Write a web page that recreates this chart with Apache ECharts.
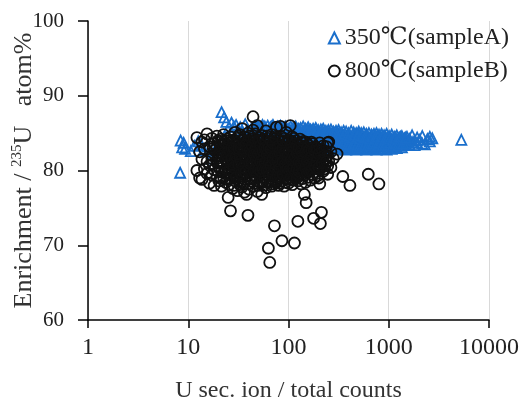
<!DOCTYPE html>
<html><head><meta charset="utf-8">
<script src="https://cdn.jsdelivr.net/npm/echarts@6/dist/echarts.min.js"></script>
<style>html,body{margin:0;padding:0;background:#fff}#c{width:526px;height:403px}</style>
</head><body><div id="c"></div>
<script>
const seriesNames = ['350℃(sampleA)', '800℃(sampleB)'];
const xTicks = [1, 10, 100, 1000, 10000];
const yTicks = [60, 70, 80, 90, 100];
const xTitle = 'U sec. ion / total counts';

// sampleA (triangles): [x, [y values at that x]]
const sampleA = [
  [8.3,[79.7]],[8.4,[84.0]],[8.7,[83.1]],[9.0,[83.7]],[9.3,[82.9]],[10.6,[82.6]],[11.5,[83.3]],[12.6,[83.9]],
  [13.4,[83.5]],[14.2,[82.7]],[15.5,[83.2]],[16.8,[81.6]],[18,[82.4]],[19.5,[83.0]],[21.5,[87.8]],[22.8,[87.1]],
  [24,[86.5]],[25.5,[85.8]],[27,[86.4]],[28.5,[85.9]],[30,[86.1]],[31.5,[85.4]],[33,[85.8]],[35,[85.1]],
  [37,[86.2]],[39,[85.5]],[41,[84.9]],[43,[85.7]],
  [46,[85.9,85.2,84.6]],[49,[85.4,86.0,84.8]],[52,[85.7,84.9,84.3]],[55,[86.1,85.3,84.5]],[58,[85.6,84.8,85.9]],
  [62,[85.1,86.0,84.4]],[66,[85.8,84.9,85.3]],[70,[85.5,86.1,84.6]],[74,[85.0,85.7,84.2]],[78,[85.9,85.2,84.7]],
  [83,[85.4,84.6,86.0,83.9]],[88,[85.7,85.0,84.3]],[93,[85.2,85.9,84.5,83.8]],[99,[85.6,84.8,85.1,84.0]],
  [105,[85.9,85.3,84.4,83.7]],[111,[85.0,85.7,84.7,84.1]],[118,[85.5,84.9,85.9,83.6]],[125,[85.2,84.5,85.6,83.9]],
  [132,[85.7,84.8,84.2,83.5]],[140,[85.3,85.9,84.6,83.8]],[148,[85.0,85.6,84.3,83.4]],[157,[85.4,84.7,85.8,83.7]],
  [166,[85.1,84.4,85.5,83.3]],[176,[85.6,84.9,84.1,83.6]],[187,[85.2,85.7,84.5,83.2]],[198,[84.8,85.4,84.0,83.5]],
  [210,[85.5,84.6,85.0,83.1]],[222,[85.1,84.3,85.6,83.7]],[236,[84.7,85.3,83.9,83.0]],[250,[85.4,84.5,83.4,84.9]],
  [265,[85.0,84.2,85.5,83.2,82.9]],[281,[84.6,85.2,83.8,83.3]],[298,[85.3,84.4,83.6,82.8]],[316,[84.9,85.4,84.1,83.1]],
  [335,[85.1,84.3,83.7,82.9]],[355,[84.7,85.3,83.9,83.2]],[376,[85.2,84.5,83.5,82.8]],[398,[84.8,85.0,84.0,83.1]],
  [422,[85.3,84.4,83.6,82.9]],[447,[84.6,85.1,83.8,83.2]],[474,[85.0,84.2,83.4,82.8]],[502,[84.8,85.2,83.9,83.0]],
  [532,[84.5,85.0,83.6,82.9]],[564,[85.1,84.3,83.7,83.1]],[598,[84.7,84.9,83.3,82.8]],[634,[85.0,84.1,83.8,83.0]],
  [672,[84.6,84.8,83.5,82.9]],[712,[84.9,84.2,83.4,83.1]],[755,[84.5,85.0,83.7,82.8]],[800,[84.8,84.0,83.2,83.5]],
  [848,[84.4,84.9,83.6,82.9]],[899,[84.7,84.1,83.3,83.0]],[953,[84.9,84.3,83.7,82.8]],[1010,[84.6,84.0,83.4,83.1]],
  [1070,[84.8,84.2,83.5,82.9]],[1135,[84.5,83.9,83.2]],[1203,[84.7,84.1,83.6,83.0]],[1275,[84.4,83.8,83.3]],
  [1352,[84.6,84.0,83.1]],[1433,[84.3,83.7,83.4]],[1520,[84.5,83.9]],[1610,[84.2,83.5]],[1710,[84.7,83.8]],
  [1810,[84.0,83.4]],[1920,[84.4,83.7]],[2040,[84.1]],[2160,[84.6,83.6]],[2290,[83.5]],[2430,[84.2]],
  [2570,[84.5,83.9]],[2720,[84.3]],[5300,[84.1]],
  [47.5,[85.5,86.0]],[50.5,[85.0,85.8]],[53.5,[85.5,84.7]],[56.5,[85.0,85.8]],[60,[85.4,84.6]],[64,[85.6,84.8]],
  [68,[85.0,85.9]],[72,[85.3,84.4]],[76,[85.6,84.9]],[80.5,[85.1,85.8]],[85.5,[85.3,84.5]],[90.5,[85.6,84.9]],
  [96,[85.3,84.2]],[102,[85.5,84.6]],[108,[85.1,84.2]],[114.5,[85.4,84.3]],[121.5,[85.1,84.0]],[128.5,[85.4,84.2]],
  [136,[85.0,84.0]],[144,[85.2,83.7]],[152.5,[85.3,84.0]],[161.5,[85.0,83.8]],[171,[85.3,84.0]],[181.5,[84.8,83.8]],
  [192.5,[85.2,83.9]],[204,[84.9,83.6]],[216,[85.3,83.9]],[229,[84.9,83.5]],[243,[85.1,83.7]],[257,[84.8,83.6]],
  [273,[84.9,83.5]],[289,[85.0,83.4]],[307,[84.6,83.5]],[325,[84.8,83.4]],[345,[84.5,83.5]],[365,[84.9,83.6]],
  [387,[84.5,83.4]],[410,[84.7,83.5]],[435,[84.4,83.4]],[460,[84.8,83.6]],[488,[84.5,83.5]],[517,[84.3,83.3]],
  [548,[84.7,83.4]],[581,[84.4,83.5]],[616,[84.6,83.3]],[653,[84.3,83.4]],[692,[84.6,83.6]],[733,[84.3,83.3]],
  [777,[84.5,83.4]],[824,[84.2,83.7]],[873,[84.5,83.4]],[926,[84.2,83.5]],[981,[84.4,83.3]],[1040,[84.3,83.7]],
  [1103,[84.1,83.4]],[1168,[84.4,83.6]],[1240,[84.2,83.4]],[1313,[84.5]],[1392,[84.1,83.6]],[1476,[84.4]]
];

// sampleB (circles): [x, [y values at that x]]
const sampleB = [
  [12.2,[84.4,80.0]],[13,[82.5,79.0]],[13.7,[78.8,81.5,83.8]],[14.5,[80.2,82.9,84.1]],[15.4,[84.9,79.6,81.2]],
  [16.3,[83.2,80.7,78.3]],[17.2,[82.0,84.3,79.4,81.6]],[18.1,[83.6,80.1,82.7,78.0]],[19.3,[84.6,81.1,79.2,83.0]],
  [20.2,[82.3,80.5,83.9,78.6,81.7]],[21.4,[84.2,79.8,82.8,81.0,77.9]],[22.5,[83.4,80.9,82.1,84.8,79.1]],
  [23.7,[81.5,83.1,78.4,82.6,80.2,84.0]],[25,[82.9,76.4,79.6,81.9,83.7,80.8]],[26.4,[74.6,84.5,82.2,80.4,78.9,81.3,83.3]],
  [27.8,[81.8,77.6,83.9,79.9,82.5,80.7]],[29.3,[85.1,82.0,78.6,80.9,83.4,81.4,79.3]],[31,[83.0,81.1,77.3,84.3,79.7,82.6,80.3]],
  [32.7,[82.3,84.8,78.1,80.6,81.8,83.6,79.0]],[34.5,[85.6,81.5,83.2,77.8,80.1,82.8,79.5]],[36.3,[83.7,80.8,82.1,78.8,84.5,81.2,77.1]],
  [38.2,[82.4,79.3,84.0,81.7,80.2,83.1,76.8]],[39.4,[74.0,85.0,82.9,78.2]],[40.5,[81.0,83.5,79.8,82.2,84.6,80.5,77.5]],
  [42.6,[84.2,82.0,80.0,78.6,83.0,81.4]],[44.3,[87.2,85.4,81.7,83.8,79.4,82.6,80.7,77.9]],[46.5,[83.3,80.3,84.9,81.9,78.9,82.7]],
  [48.8,[86.0,82.4,79.7,83.6,81.1,80.2,77.2]],[51.2,[84.4,81.5,78.5,82.9,80.6,83.9]],[54,[76.8,83.1,80.9,82.3,79.1,84.7,81.8]],
  [56.6,[82.0,84.0,78.0,80.4,83.4,81.3]],[59.5,[85.3,81.6,79.5,82.8,80.1,83.7,77.7]],[62.5,[83.2,80.8,82.4,78.6,84.3,81.0]],
  [63,[69.6]],[65,[67.7,82.1,79.9,83.8,81.5]],[68,[84.8,80.4,82.6,78.2,81.9,83.3,77.9]],
  [72.4,[72.6,83.0,81.2,79.3,82.3,84.2,80.6]],[75.8,[85.8,82.7,80.0,81.6,78.4,83.5]],[79.5,[84.0,81.9,79.6,82.9,80.8,78.0]],
  [83.2,[85.9,83.4,80.3,82.0,81.1,79.0,84.6]],[86,[70.6,82.5,80.7,83.9,78.6]],[90.5,[84.3,81.4,79.8,82.8,80.1,83.2,77.9]],
  [95,[85.1,82.2,80.5,81.7,78.9,83.6]],[100,[83.0,80.9,82.5,79.4,84.1,81.3,78.3]],[104,[86.0,81.8,80.2,83.4,82.1]],
  [109,[84.5,82.7,79.7,81.0,80.6,83.8,78.1]],[114.6,[70.3,82.3,80.0,83.2,81.5]],[119,[84.0,81.1,79.2,82.6,80.5]],
  [124,[73.2,83.5,80.8,82.0,78.6,81.7]],[130,[82.9,80.3,84.2,81.4,79.6]],[137,[83.7,81.9,80.1,82.4,78.9]],
  [144,[76.8,82.1,80.7,83.3,81.2,79.4]],[150,[75.7,83.8,81.6,80.0,82.8]],[157,[82.5,80.4,81.9,79.1,83.4]],
  [165,[81.3,83.0,80.2,82.2,78.7]],[173,[82.7,80.9,81.7,79.5,83.6]],[178,[73.6,81.0,82.4]],[185,[83.2,80.3,82.0,79.8,81.4]],
  [195,[81.8,80.6,82.9,79.3]],[205,[78.2,83.7,81.2,80.1,82.5]],[208,[72.9]],[213,[74.4,81.6,80.4]],
  [222,[82.3,79.9,81.0,83.3]],[232,[80.7,82.6,81.5]],[246,[79.5,82.0,80.6,83.7]],[252,[83.8,81.3]],[265,[82.5,80.4]],
  [280,[81.6]],[305,[82.2]],[348,[79.2]],[410,[78.0]],[625,[79.5]],[797,[78.2]],
  [17.7,[80.9,83.0]],[19.8,[79.9,82.0,84.0]],[21,[81.3,83.4,79.0]],[23,[80.0,82.4,83.8]],[24.4,[78.8,81.2,84.2,82.0]],
  [25.7,[80.1,82.7,78.1]],[27.1,[83.0,79.4,81.6]],[28.5,[80.4,82.9,78.0,84.1]],[30.1,[81.9,79.1,83.7]],
  [31.8,[80.8,82.9,78.6,84.6]],[33.6,[79.6,81.3,83.0]],[35.4,[82.5,80.4,78.3,84.0]],[37.2,[81.6,79.8,83.4]],
  [41.5,[82.7,80.9,78.9]],[43.4,[81.0,83.3,79.0]],[45.4,[82.1,80.0,84.3,78.3]],[47.6,[81.4,83.0,79.2]],
  [50,[80.1,82.2,84.0,78.0]],[52.6,[81.2,83.4,79.9]],[55.3,[80.2,82.6,78.5,84.2]],[58,[81.0,83.0,79.0]],
  [61,[82.1,80.0,84.6,78.4]],[64,[81.0,83.1,79.3]],[66.5,[80.6,82.8,78.5,84.0]],[70,[81.6,79.6,83.6]],
  [74,[80.3,82.0,78.7,84.4]],[77.6,[81.3,83.2,79.2]],[81.3,[80.2,82.4,78.3]],[88,[81.2,83.0,79.5,84.0]],
  [92.7,[80.8,82.4,78.4]],[97.5,[81.9,79.6,83.8,80.2]],[102,[82.8,80.0,78.8]],[106.5,[81.4,83.3,79.1]],
  [112,[82.0,80.3,84.3,78.7]],[116.8,[81.8,79.7,83.6]],[121.5,[80.2,82.3,79.0]],[127,[81.1,83.0,79.9]],
  [133.5,[80.9,82.6,78.2]],[140.5,[81.5,83.9,79.9]],[147,[80.4,82.4,78.4]],[153.5,[81.3,83.0,79.7]],
  [161,[80.8,82.7,79.9]],[169,[81.8,83.8,80.0]],[181,[80.6,82.6,79.0]],[190,[81.1,83.0]],[200,[80.4,82.2,79.0]],
  [217,[81.0,82.8]],[227,[80.2,82.0]],[239,[81.2,83.2]]
];

function toPoints(cols) {
  const out = [];
  cols.forEach(c => c[1].forEach(y => out.push([c[0], y])));
  return out;
}

const FONT = "'Liberation Serif', 'DejaVu Serif', 'DejaVu Sans', serif";
const chart = echarts.init(document.getElementById('c'), null, { renderer: 'canvas' });
chart.setOption({
  animation: false,
  backgroundColor: '#fff',
  grid: { left: 88, right: 37, top: 21, bottom: 83, containLabel: false, outerBoundsMode: 'none' },
  legend: {
    orient: 'vertical', right: 12, top: 21, itemWidth: 11, itemHeight: 11, itemGap: 9,
    textStyle: { fontFamily: FONT, fontSize: 24, color: '#222' },
    data: seriesNames
  },
  xAxis: {
    type: 'log', logBase: 10, min: xTicks[0], max: xTicks[xTicks.length - 1],
    name: xTitle, nameLocation: 'middle', nameGap: 59, nameMoveOverlap: false,
    nameTextStyle: { fontFamily: FONT, fontSize: 24, color: '#333' },
    axisLine: { lineStyle: { color: '#000', width: 1.5 } },
    axisTick: { show: true, length: 8, lineStyle: { color: '#000', width: 1.5 } },
    axisLabel: { fontFamily: FONT, fontSize: 24, color: '#222', margin: 16, formatter: v => String(Math.round(v)) },
    splitLine: { show: true, lineStyle: { color: '#d9d9d9', width: 1 } }
  },
  yAxis: {
    type: 'value', min: yTicks[0], max: yTicks[yTicks.length - 1], interval: 10,
    name: '{n|Enrichment / }{s|235}{n|U   atom%}', nameLocation: 'middle', nameGap: 50, nameMoveOverlap: false,
    nameTextStyle: {
      fontFamily: FONT, color: '#333',
      rich: {
        n: { fontFamily: FONT, fontSize: 26, color: '#333', lineHeight: 28 },
        s: { fontFamily: FONT, fontSize: 15, color: '#333', verticalAlign: 'top', lineHeight: 28 }
      }
    },
    axisLine: { show: true, lineStyle: { color: '#000', width: 1.5 } },
    axisTick: { show: true, length: 10, lineStyle: { color: '#000', width: 1.5 } },
    axisLabel: { fontFamily: FONT, fontSize: 21, color: '#222', margin: 24 },
    splitLine: { show: false }
  },
  series: [
    {
      name: seriesNames[0], type: 'scatter', symbol: 'triangle', symbolSize: 10,
      itemStyle: { color: 'rgba(255,255,255,0)', borderColor: '#1a6fcc', borderWidth: 1.8, opacity: 1 },
      data: toPoints(sampleA)
    },
    {
      name: seriesNames[1], type: 'scatter', symbol: 'circle', symbolSize: 11,
      itemStyle: { color: 'rgba(255,255,255,0)', borderColor: '#111', borderWidth: 1.8, opacity: 1 },
      data: toPoints(sampleB)
    }
  ]
});
</script></body></html>
